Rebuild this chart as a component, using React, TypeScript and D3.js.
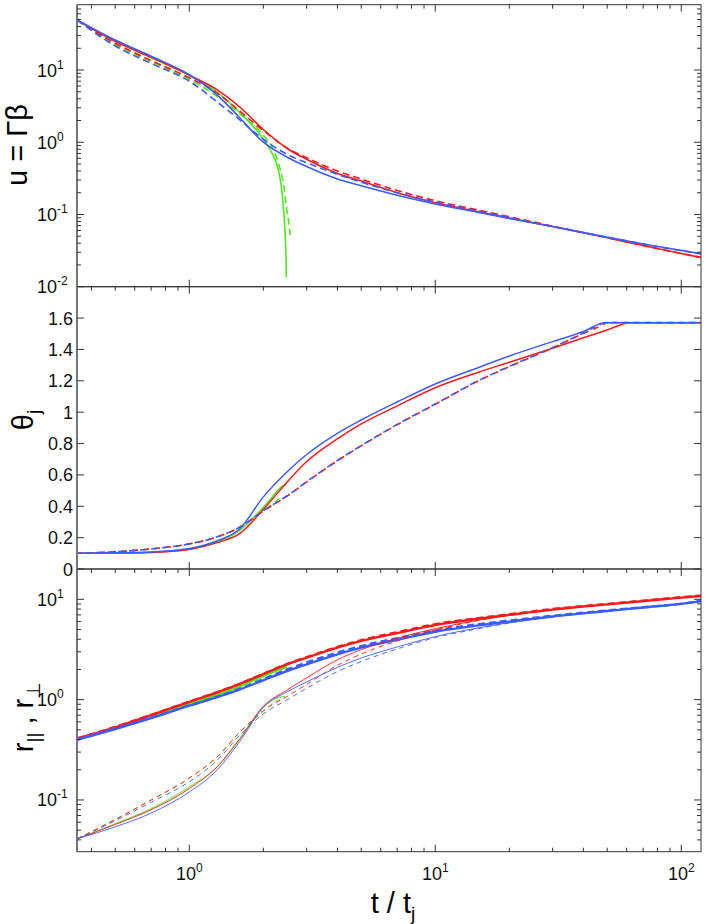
import React from 'react';
import * as d3 from 'd3';

// ---------- data ----------
const tGrid = [0.35, 0.5, 0.7, 1, 1.3, 1.6, 2, 2.5, 3, 4, 5, 7, 10, 15, 20, 30, 50, 70, 100, 120];

// panel 1 : u = Γβ
const uRedSolid = [49, 25, 15, 8.5, 5.3, 3.1, 1.5, 0.82, 0.58, 0.37, 0.29, 0.2, 0.145, 0.109, 0.089, 0.068, 0.0475, 0.0372, 0.0288, 0.0254];
const uBlueSolid = [49.5, 26, 15.5, 8.6, 4.5, 2.2, 1.0, 0.62, 0.46, 0.31, 0.25, 0.185, 0.14, 0.107, 0.088, 0.068, 0.0485, 0.039, 0.0318, 0.0286];
const uRedDash = [49, 23.5, 13.5, 7.8, 4.8, 2.7, 1.45, 0.83, 0.61, 0.4, 0.31, 0.215, 0.155, 0.115, 0.093, 0.069, 0.0478, 0.0373, 0.0288, 0.0255];
const uBlueDash = [49, 21.5, 12.3, 7.0, 3.6, 2.05, 1.1, 0.68, 0.52, 0.36, 0.28, 0.2, 0.148, 0.112, 0.09, 0.068, 0.0485, 0.039, 0.0316, 0.0285];
const tGreenU = [0.35, 0.5, 0.7, 1, 1.3, 1.6, 2, 2.2, 2.3, 2.36, 2.41, 2.44, 2.46, 2.475, 2.48];
const uGreenSolid = [49, 25, 14.8, 8.4, 4.9, 2.6, 1.1, 0.64, 0.42, 0.26, 0.13, 0.075, 0.042, 0.022, 0.0135];
const tGreenUDash = [0.35, 0.5, 0.7, 1, 1.3, 1.6, 2, 2.2, 2.3, 2.42, 2.49, 2.54, 2.57];
const uGreenDash = [49, 22.5, 13, 7.4, 4.3, 2.5, 1.25, 0.78, 0.52, 0.25, 0.115, 0.075, 0.052];

// panel 2 : θj
const tThRed = [0.35, 0.5, 0.7, 1, 1.3, 1.6, 2, 2.5, 3, 4, 5, 7, 10, 15, 20, 30, 40, 50, 62, 80, 120];
const thRed = [0.1, 0.102, 0.106, 0.125, 0.168, 0.225, 0.38, 0.555, 0.685, 0.83, 0.925, 1.04, 1.156, 1.255, 1.318, 1.408, 1.474, 1.524, 1.5708, 1.5708, 1.5708];
const tThBlue = [0.35, 0.5, 0.7, 1, 1.3, 1.6, 2, 2.5, 3, 4, 5, 7, 10, 15, 20, 30, 40, 49, 80, 120];
const thBlue = [0.1, 0.103, 0.108, 0.13, 0.18, 0.255, 0.46, 0.62, 0.73, 0.865, 0.95, 1.065, 1.18, 1.285, 1.358, 1.45, 1.514, 1.5708, 1.5708, 1.5708];
const tThDash = [0.35, 0.5, 0.7, 1, 1.3, 1.6, 2, 2.5, 3, 4, 5, 7, 10, 15, 20, 30, 40, 47, 50, 80, 120];
const thRedDash = [0.1, 0.11, 0.128, 0.16, 0.205, 0.265, 0.37, 0.465, 0.555, 0.69, 0.785, 0.92, 1.05, 1.2, 1.29, 1.41, 1.502, 1.55, 1.5708, 1.5708, 1.5708];
const thBlueDash = [0.1, 0.11, 0.128, 0.16, 0.205, 0.267, 0.372, 0.467, 0.557, 0.692, 0.787, 0.922, 1.052, 1.202, 1.292, 1.412, 1.505, 1.56, 1.5708, 1.5708, 1.5708];
const tThGreen = [0.35, 0.5, 0.7, 1, 1.3, 1.6, 1.9, 2.1, 2.3, 2.4, 2.48];
const thGreen = [0.1, 0.102, 0.107, 0.127, 0.172, 0.245, 0.355, 0.43, 0.505, 0.53, 0.535];
const tThGreenDash = [0.35, 0.5, 0.7, 1, 1.3, 1.6, 2, 2.2, 2.33, 2.42];
const thGreenDash = [0.1, 0.11, 0.128, 0.16, 0.205, 0.265, 0.37, 0.42, 0.45, 0.46];

// panel 3 : r_|| (thick) and r_⊥ (thin)
const rParRed = [0.41, 0.53, 0.7, 0.95, 1.18, 1.43, 1.8, 2.25, 2.62, 3.3, 3.85, 4.6, 5.55, 6.4, 7.0, 7.9, 8.9, 9.6, 10.4, 10.8];
const rParRedDash = [0.41, 0.535, 0.705, 0.955, 1.19, 1.44, 1.81, 2.27, 2.65, 3.35, 3.92, 4.7, 5.65, 6.5, 7.1, 8.0, 9.0, 9.7, 10.5, 10.9];
const rParBlue = [0.4, 0.51, 0.655, 0.87, 1.06, 1.26, 1.56, 1.93, 2.25, 2.83, 3.3, 3.95, 4.75, 5.5, 6.0, 6.75, 7.65, 8.3, 9.0, 9.6];
const rParBlueDash = [0.4, 0.515, 0.66, 0.875, 1.07, 1.28, 1.6, 2.0, 2.35, 2.95, 3.42, 4.1, 4.9, 5.65, 6.15, 6.85, 7.75, 8.35, 9.05, 9.65];
const tParGreen = [0.35, 0.5, 0.7, 1, 1.3, 1.6, 2, 2.3, 2.5];
const rParGreen = [0.405, 0.52, 0.68, 0.91, 1.12, 1.35, 1.72, 1.98, 2.12];
const rPerpRed = [0.041, 0.057, 0.08, 0.13, 0.215, 0.4, 0.86, 1.25, 1.65, 2.5, 3.15, 4.1, 5.1, 6.2, 6.95, 7.9, 8.9, 9.6, 10.4, 10.8];
const rPerpRedDash = [0.041, 0.064, 0.1, 0.165, 0.27, 0.47, 0.78, 1.08, 1.42, 2.2, 2.85, 3.85, 4.95, 6.15, 6.95, 7.9, 8.9, 9.6, 10.4, 10.8];
const rPerpBlue = [0.041, 0.054, 0.074, 0.12, 0.2, 0.38, 0.84, 1.2, 1.5, 2.1, 2.6, 3.35, 4.25, 5.2, 5.85, 6.7, 7.65, 8.3, 9.0, 9.6];
const rPerpBlueDash = [0.041, 0.062, 0.095, 0.152, 0.25, 0.44, 0.72, 1.0, 1.3, 1.9, 2.4, 3.2, 4.15, 5.1, 5.8, 6.7, 7.65, 8.3, 9.0, 9.6];
const tPerpGreen = [0.35, 0.5, 0.7, 1, 1.3, 1.6, 2, 2.2, 2.45];
const rPerpGreen = [0.041, 0.058, 0.082, 0.135, 0.215, 0.41, 0.84, 1.0, 1.08];
const rPerpGreenDash = [0.041, 0.064, 0.1, 0.165, 0.27, 0.47, 0.76, 0.93, 1.04];

const xMajor = [1, 10, 100];
const y1Major = [0.01, 0.1, 1, 10];
const y2Major = [0, 0.2, 0.4, 0.6, 0.8, 1, 1.2, 1.4, 1.6];
const y3Major = [0.1, 1, 10];

// ---------- layout ----------
const W = 706, H = 924;
const X0 = 77, X1 = 701;
const P1T = 4.7, P1B = 286.7, P2T = 286.7, P2B = 569, P3T = 569, P3B = 851.7;
const RED = '#ff1a1a', BLUE = '#3b5cff', GREEN = '#4fe81a';
const FONT = '"Liberation Sans", Arial, Helvetica, sans-serif';

function minorLog(domain: number[]) {
  const out: number[] = [];
  const lo = Math.floor(Math.log10(domain[0])), hi = Math.ceil(Math.log10(domain[1]));
  for (let e = lo; e <= hi; e++) for (let k = 2; k <= 9; k++) {
    const v = k * Math.pow(10, e);
    if (v > domain[0] * 1.01 && v < domain[1] * 0.99) out.push(v);
  }
  return out;
}

type Ser = { t: number[]; v: number[]; color: string; width: number; dash?: string; offset?: number };

export default function App() {
  const xd = [0.3495, 120.3];
  const x = d3.scaleLog().domain(xd).range([X0, X1]);
  const y1 = d3.scaleLog().domain([0.01, 80.2]).range([P1B, P1T]);
  const y2 = d3.scaleLinear().domain([0, 1.8]).range([P2B, P2T]);
  const y3 = d3.scaleLog().domain([0.0305, 20.06]).range([P3B, P3T]);
  const xMinor = minorLog(xd);

  const path = (s: Ser, y: (v: number) => number) => {
    const pts = s.t.map((t, i) => [x(t), y(s.v[i])] as [number, number]);
    return d3.line().curve(d3.curveMonotoneX)(pts) || '';
  };

  const s1: Ser[] = [
    { t: tGreenU, v: uGreenSolid, color: GREEN, width: 1.6 },
    { t: tGreenUDash, v: uGreenDash, color: GREEN, width: 1.6, dash: '7 4' },
    { t: tGrid, v: uRedDash, color: RED, width: 1.6, dash: '7 4' },
    { t: tGrid, v: uRedSolid, color: RED, width: 1.6 },
    { t: tGrid, v: uBlueDash, color: BLUE, width: 1.6, dash: '7 4' },
    { t: tGrid, v: uBlueSolid, color: BLUE, width: 1.6 },
  ];
  const s2: Ser[] = [
    { t: tThGreen, v: thGreen, color: GREEN, width: 1.5 },
    { t: tThGreenDash, v: thGreenDash, color: GREEN, width: 1.5, dash: '6 5' },
    { t: tThRed, v: thRed, color: RED, width: 1.5 },
    { t: tThDash, v: thRedDash, color: RED, width: 1.6, dash: '6 5' },
    { t: tThDash, v: thBlueDash, color: BLUE, width: 1.6, dash: '6 5', offset: 3 },
    { t: tThBlue, v: thBlue, color: BLUE, width: 1.5 },
  ];
  const s3: Ser[] = [
    { t: tParGreen, v: rParGreen, color: GREEN, width: 2.4 },
    { t: tGrid, v: rParRed, color: RED, width: 2.4 },
    { t: tGrid, v: rParRedDash, color: RED, width: 2.4, dash: '7 4' },
    { t: tGrid, v: rParBlue, color: BLUE, width: 2.4 },
    { t: tGrid, v: rParBlueDash, color: BLUE, width: 2.4, dash: '7 4' },
    { t: tPerpGreen, v: rPerpGreen, color: GREEN, width: 0.9 },
    { t: tPerpGreen, v: rPerpGreenDash, color: GREEN, width: 0.9, dash: '5 4' },
    { t: tGrid, v: rPerpRed, color: RED, width: 0.9 },
    { t: tGrid, v: rPerpRedDash, color: RED, width: 0.9, dash: '5 4' },
    { t: tGrid, v: rPerpBlue, color: BLUE, width: 0.9 },
    { t: tGrid, v: rPerpBlueDash, color: BLUE, width: 0.9, dash: '5 4' },
  ];

  const tickStroke = '#333';
  const ML = 7, mL = 4;

  const xTicks = (top: number, bottom: number, bottomMinor: boolean, key: string) => (
    <g key={key} stroke={tickStroke} strokeWidth={1}>
      {xMajor.map(v => <line key={'tM' + v} x1={x(v)} x2={x(v)} y1={top} y2={top + ML} />)}
      {xMinor.map(v => <line key={'tm' + v} x1={x(v)} x2={x(v)} y1={top} y2={top + mL} />)}
      {xMajor.map(v => <line key={'bM' + v} x1={x(v)} x2={x(v)} y1={bottom} y2={bottom - ML} />)}
      {bottomMinor && xMinor.map(v => <line key={'bm' + v} x1={x(v)} x2={x(v)} y1={bottom} y2={bottom - mL} />)}
    </g>
  );

  const yTicks = (y: (v: number) => number, major: number[], minor: number[], key: string) => (
    <g key={key} stroke={tickStroke} strokeWidth={1}>
      {major.map(v => <line key={'lM' + v} x1={X0} x2={X0 + ML} y1={y(v)} y2={y(v)} />)}
      {major.map(v => <line key={'rM' + v} x1={X1} x2={X1 - ML} y1={y(v)} y2={y(v)} />)}
      {minor.map(v => <line key={'lm' + v} x1={X0} x2={X0 + mL} y1={y(v)} y2={y(v)} />)}
      {minor.map(v => <line key={'rm' + v} x1={X1} x2={X1 - mL} y1={y(v)} y2={y(v)} />)}
    </g>
  );

  const expLabel = (v: number) => String(Math.round(Math.log10(v)));

  const logYLabels = (y: (v: number) => number, major: number[], key: string) => (
    <g key={key} fontFamily={FONT} fill="#111">
      {major.map(v => (
        <text key={v} x={37} y={y(v) + 6.5} fontSize={18}>
          10<tspan dy={-8} fontSize={12}>{expLabel(v)}</tspan>
        </text>
      ))}
    </g>
  );

  const renderSeries = (list: Ser[], y: (v: number) => number, clip: string) => (
    <g clipPath={`url(#${clip})`} fill="none" strokeLinejoin="round">
      {list.map((s, i) => (
        <path key={i} d={path(s, y)} stroke={s.color} strokeWidth={s.width}
          strokeDasharray={s.dash} strokeDashoffset={s.offset || 0} />
      ))}
    </g>
  );

  return (
    <svg width={W} height={H} style={{ position: 'absolute', left: 0, top: 0, background: '#fff' }}>
      <defs>
        <clipPath id="c1"><rect x={X0} y={P1T} width={X1 - X0} height={P1B - P1T} /></clipPath>
        <clipPath id="c2"><rect x={X0} y={P2T} width={X1 - X0} height={P2B - P2T} /></clipPath>
        <clipPath id="c3"><rect x={X0} y={P3T} width={X1 - X0} height={P3B - P3T} /></clipPath>
      </defs>
      <rect x={0} y={0} width={W} height={H} fill="#fff" />

      {renderSeries(s1, y1, 'c1')}
      {renderSeries(s2, y2, 'c2')}
      {renderSeries(s3, y3, 'c3')}

      {/* frames */}
      <g fill="none" stroke="#333" strokeWidth={1}>
        <rect x={X0} y={P1T} width={X1 - X0} height={P1B - P1T} />
        <rect x={X0} y={P2T} width={X1 - X0} height={P2B - P2T} />
        <rect x={X0} y={P3T} width={X1 - X0} height={P3B - P3T} />
      </g>
      <line x1={X0} x2={X0} y1={P1T} y2={P3B} stroke="#777" strokeWidth={2} />

      {xTicks(P1T, P1B, false, 'xt1')}
      {xTicks(P2T, P2B, false, 'xt2')}
      {xTicks(P3T, P3B, true, 'xt3')}
      {yTicks(y1, y1Major, minorLog([0.01, 80.2]), 'yt1')}
      {yTicks(y2, y2Major, [], 'yt2')}
      {yTicks(y3, y3Major, minorLog([0.0305, 20.06]), 'yt3')}

      {logYLabels(y1, y1Major, 'yl1')}
      {logYLabels(y3, y3Major, 'yl3')}
      <g fontFamily={FONT} fill="#111" fontSize={18} textAnchor="end">
        {y2Major.map(v => <text key={v} x={73} y={y2(v) + 6.5}>{String(v)}</text>)}
      </g>

      {/* x tick labels */}
      <g fontFamily={FONT} fill="#111" textAnchor="middle">
        {xMajor.map(v => (
          <text key={v} x={x(v)} y={880} fontSize={18}>
            10<tspan dy={-8} fontSize={12}>{expLabel(v)}</tspan>
          </text>
        ))}
      </g>

      {/* axis titles */}
      <g fontFamily={FONT} fill="#000">
        <text transform="translate(27,145) rotate(-90)" textAnchor="middle" fontSize={29}>u = Γβ</text>
        <text transform="translate(33,420) rotate(-90)" textAnchor="middle" fontSize={29}>
          θ<tspan dy={7} fontSize={19}>j</tspan>
        </text>
        <text transform="translate(33,717) rotate(-90)" textAnchor="middle" fontSize={29}>
          r<tspan dy={7} fontSize={19}>||</tspan><tspan dy={-7}> , r</tspan><tspan dy={7} fontSize={19}>⊥</tspan>
        </text>
        <text x={393} y={913} textAnchor="middle" fontSize={29}>
          t / t<tspan dy={7} fontSize={19}>j</tspan>
        </text>
      </g>
    </svg>
  );
}
